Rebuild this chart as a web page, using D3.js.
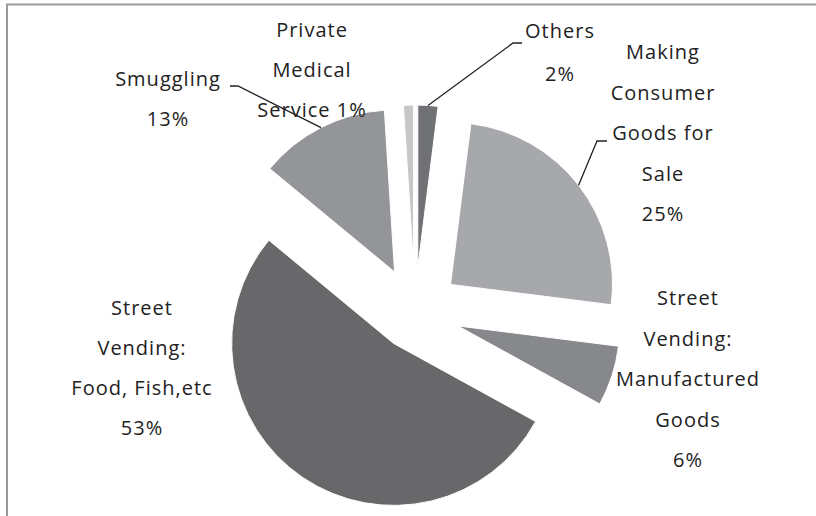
<!DOCTYPE html>
<html>
<head>
<meta charset="utf-8">
<script src="https://cdn.jsdelivr.net/npm/d3@7"></script>
<style>
  body { margin: 0; background: #fff; }
  svg { display: block; }
  .lbl { font-family: "Open Sans", "Noto Sans", sans-serif; font-size: 20px; fill: #222; text-anchor: middle; letter-spacing: 1px; }
</style>
</head>
<body>
<svg id="chart" width="816" height="516"></svg>
<script>
// slices clockwise from 12 o'clock
var categories = ["Others", "Making Consumer Goods for Sale", "Street Vending: Manufactured Goods",
                  "Street Vending: Food, Fish,etc", "Smuggling", "Private Medical Service"]
var values = [2, 25, 6, 53, 13, 1]
var colors = ["#707174", "#a7a8ab", "#87888b", "#68686a", "#949598", "#c6c7c9"]

// label text lines as they wrap in the picture
var labelLines = [
    ["Others", "2%"],
    ["Making", "Consumer", "Goods for", "Sale", "25%"],
    ["Street", "Vending:", "Manufactured", "Goods", "6%"],
    ["Street", "Vending:", "Food, Fish,etc", "53%"],
    ["Smuggling", "13%"],
    ["Private", "Medical", "Service 1%"]
]

var width = 816, height = 516
var cx = 415, cy = 312, radius = 162
var explodeBy = [45, 45, 45, 38, 45, 45]

// label block centre x, first line middle y, line spacing
var labelPos = [[560, 31, 43], [663, 52, 40.5], [688, 298, 40.5], [142, 308, 40], [168, 79, 40], [312, 30, 40]]
// leader elbows: [elbow point, end point] (null = no leader)
var leaders = [[[513, 43], [522, 43]], [[597, 141], [607, 141]], null, null,
               [[238, 86], [230, 86]], null]

var svg = d3.select("#chart")

// frame (only top and left edges are in view)
svg.append("path")
    .attr("d", "M7,516V4.5H816")
    .attr("fill", "none")
    .attr("stroke", "#9a9a9a")
    .attr("stroke-width", 2)

var pie = d3.pie().sort(null).value(function(d) { return d })
var arcs = pie(values)
var arc = d3.arc().innerRadius(0).outerRadius(radius)

function offset(d) {
    var a = (d.startAngle + d.endAngle) / 2
    var e = explodeBy[d.index]
    return [Math.sin(a) * e, -Math.cos(a) * e]
}

var g = svg.append("g").attr("transform", "translate(" + cx + "," + cy + ")")

g.selectAll("path.slice")
    .data(arcs)
    .join("path")
    .attr("class", "slice")
    .attr("transform", function(d) { var o = offset(d); return "translate(" + o[0] + "," + o[1] + ")" })
    .attr("d", arc)
    .attr("fill", function(d, i) { return colors[i] })
    .attr("stroke", "#fff")
    .attr("stroke-width", 1)

// leader lines from the outer middle of a slice
arcs.forEach(function(d, i) {
    if (!leaders[i]) return
    var a = (d.startAngle + d.endAngle) / 2
    var o = offset(d)
    var sx = cx + o[0] + Math.sin(a) * radius
    var sy = cy + o[1] - Math.cos(a) * radius
    svg.append("path")
        .attr("d", d3.line()([[sx, sy], leaders[i][0], leaders[i][1]]))
        .attr("fill", "none")
        .attr("stroke", "#222")
        .attr("stroke-width", 1.3)
})

labelLines.forEach(function(lines, i) {
    var t = svg.append("text").attr("class", "lbl")
    lines.forEach(function(s, j) {
        t.append("tspan")
            .attr("x", labelPos[i][0])
            .attr("y", labelPos[i][1] + j * labelPos[i][2])
            .attr("dy", "0.35em")
            .text(s)
    })
})
</script>
</body>
</html>
